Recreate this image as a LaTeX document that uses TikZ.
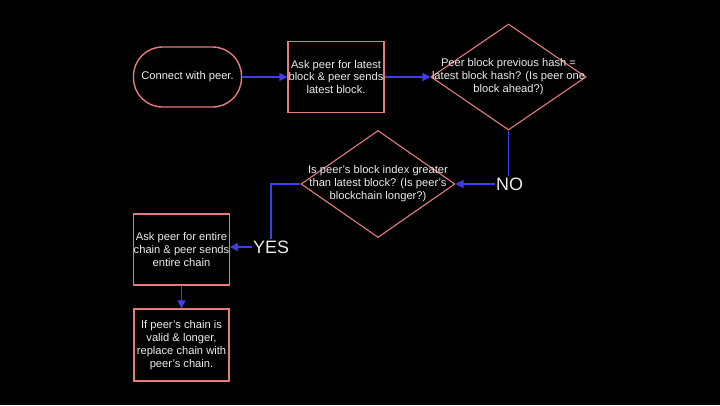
\documentclass[tikz,border=0pt]{standalone}
\usepackage{fontspec}
\setmainfont{Liberation Sans}
\usetikzlibrary{arrows.meta,shapes.geometric}
\definecolor{edge}{RGB}{228,124,124}
\definecolor{flow}{RGB}{62,62,238}
\definecolor{txt}{RGB}{236,236,236}
\tikzset{
  x=1bp, y=-1bp,
  every node/.style={text=txt, font=\fontsize{11.2}{13}\selectfont},
  boxstyle/.style={draw=edge, line width=1.4bp, rectangle, inner sep=0pt, align=center},
  decstyle/.style={draw=edge, line width=1.1bp, diamond, inner sep=0pt, aspect=1.45},
  dectext/.style={align=center, inner sep=0pt},
  bigtext/.style={font=\fontsize{18}{20}\selectfont, inner sep=1pt},
  flowline/.style={draw=flow, line width=1.4bp},
  flowarrow/.style={flowline, -{Triangle[length=8bp,width=8bp]}},
}
\begin{document}
\begin{tikzpicture}
\fill[black] (0,0) rectangle (720,405);
\useasboundingbox (0,0) rectangle (720,405);

\node[boxstyle, rounded corners=29bp, minimum width=108bp, minimum height=60bp] (start) at (187.5,77) {Connect with peer.};
\node[boxstyle, minimum width=96bp, minimum height=71bp] (ask) at (336,77) {Ask peer for latest\\block \& peer sends\\latest block.};
\node[decstyle, minimum width=155bp, minimum height=106bp] (d1) at (508.5,77) {};
\node[dectext] (d1t) at (d1.center) {Peer block previous hash =\\latest block hash? (Is peer one\\block ahead?)};
\node[decstyle, minimum width=154bp, minimum height=107bp] (d2) at (378,184) {};
\node[dectext] (d2t) at (d2.center) {Is peer's block index greater\\than latest block? (Is peer's\\blockchain longer?)};
\node[bigtext, anchor=west] (no) at (495,184) {NO};
\node[boxstyle, minimum width=95bp, minimum height=71bp] (chain) at (181.5,249.5) {Ask peer for entire\\chain \& peer sends\\entire chain};
\node[bigtext, anchor=west] (yes) at (252,247) {YES};
\node[boxstyle, minimum width=95bp, minimum height=72bp] (replace) at (181.5,345) {If peer's chain is\\valid \& longer,\\replace chain with\\peer's chain.};

\draw[flowarrow] (start.east) -- (ask.west);
\draw[flowarrow] (ask.east) -- (d1.west);
\draw[flowline] (d1.south) -- (d1.south |- no.north);
\draw[flowarrow] (no.west) -- (d2.east);
\draw[flowline] (d2.west) -| (yes.north);
\draw[flowarrow] (yes.west) -- (yes.west -| chain.east);
\draw[flowarrow] (chain.south) -- (replace.north);
\end{tikzpicture}
\end{document}
